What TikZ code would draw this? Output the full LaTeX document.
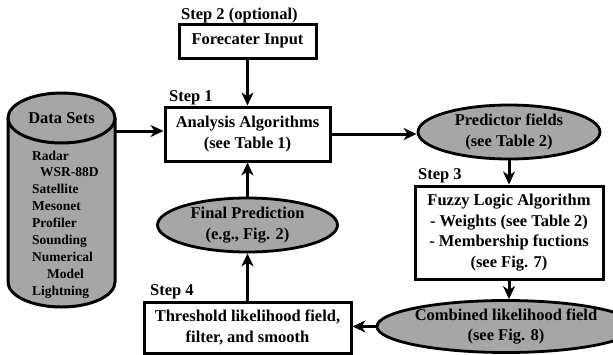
\documentclass[tikz,border=0pt]{standalone}
\usepackage{fontspec}
\setmainfont{Liberation Serif}
\usetikzlibrary{arrows.meta,shapes.geometric}
\definecolor{fillgray}{RGB}{166,166,166}
\tikzset{
  txt/.style={font=\bfseries\fontsize{16.5}{20.5}\selectfont},
  box/.style={txt, draw, line width=3pt, fill=white, inner sep=0pt, align=center},
  oval/.style={txt, ellipse, draw, line width=2.8pt, fill=fillgray, inner sep=0pt, align=center},
  arr/.style={line width=3pt, -{Stealth[length=13pt,width=12pt,inset=4pt]}},
  steplbl/.style={txt, anchor=west, inner sep=0pt},
  listtxt/.style={font=\bfseries\fontsize{13.5}{16.9}\selectfont, align=left, inner sep=0pt, anchor=north west},
  cyl/.style={line width=3pt, fill=fillgray},
}
\begin{document}
\begin{tikzpicture}[x=1pt,y=1pt]
\useasboundingbox (0,0) rectangle (613,-354);
% cylinder
\fill[fillgray] (8,-118) -- (8,-282) arc[start angle=180,end angle=360,x radius=53.5,y radius=25] -- (115,-118) -- cycle;
\draw[line width=3pt] (8,-118) -- (8,-282) arc[start angle=180,end angle=360,x radius=53.5,y radius=25] -- (115,-118);
\draw[cyl] (61.5,-118) ellipse[x radius=53.5,y radius=25];
\node[txt, inner sep=0pt] (dstitle) at (61.5,-118) {Data Sets};
\node[listtxt] (dslist) at (32,-150.5) {Radar\\\hspace*{8pt}WSR-88D\\Satellite\\Mesonet\\Profiler\\Sounding\\Numerical\\\hspace*{15pt}Model\\Lightning};
\coordinate (dsr) at (115,-131);
% boxes
\node[box, minimum width=137pt, minimum height=34pt] (fi) at (247.5,-41) {Forecater Input};
\node[box, minimum width=165pt, minimum height=54pt] (ana) at (247.5,-134) {Analysis Algorithms\\(see Table 1)};
\node[box, minimum width=188pt, minimum height=93pt] (fuz) at (509,-232.5) {Fuzzy Logic Algorithm\\- Weights (see Table 2)\\- Membership fuctions\\(see Fig. 7)};
\node[box, minimum width=207pt, minimum height=51pt] (thr) at (247.5,-327.5) {Threshold likelihood field,\\filter, and smooth};
% ovals
\node[oval, minimum width=182pt, minimum height=54pt] (pred) at (509,-132) {Predictor fields\\(see Table 2)};
\node[oval, minimum width=210pt, minimum height=52pt] (comb) at (506,-326.5) {Combined likelihood field\\(see Fig. 8)};
\node[oval, minimum width=180pt, minimum height=54pt] (fin) at (247.5,-225) {Final Prediction\\(e.g., Fig. 2)};
% step labels
\node[steplbl] (s2) at (181,-16) {Step 2 (optional)};
\node[steplbl] (s1) at (169,-98) {Step 1};
\node[steplbl] (s3) at (418,-176) {Step 3};
\node[steplbl] (s4) at (150,-292) {Step 4};
% connectors
\draw[arr] (fi.south) -- (ana.north);
\draw[arr] (dsr) -- (dsr -| ana.west);
\draw[arr] (ana.east) -- (ana.east -| pred.west);
\draw[arr] (pred.south) -- (pred.south |- fuz.north);
\draw[arr] (fuz.south) -- (fuz.south |- comb.north);
\draw[arr] (comb.west) -- (comb.west -| thr.east);
\draw[arr] (thr.north) -- (fin.south);
\draw[arr] (fin.north) -- (ana.south);
\end{tikzpicture}
\end{document}
